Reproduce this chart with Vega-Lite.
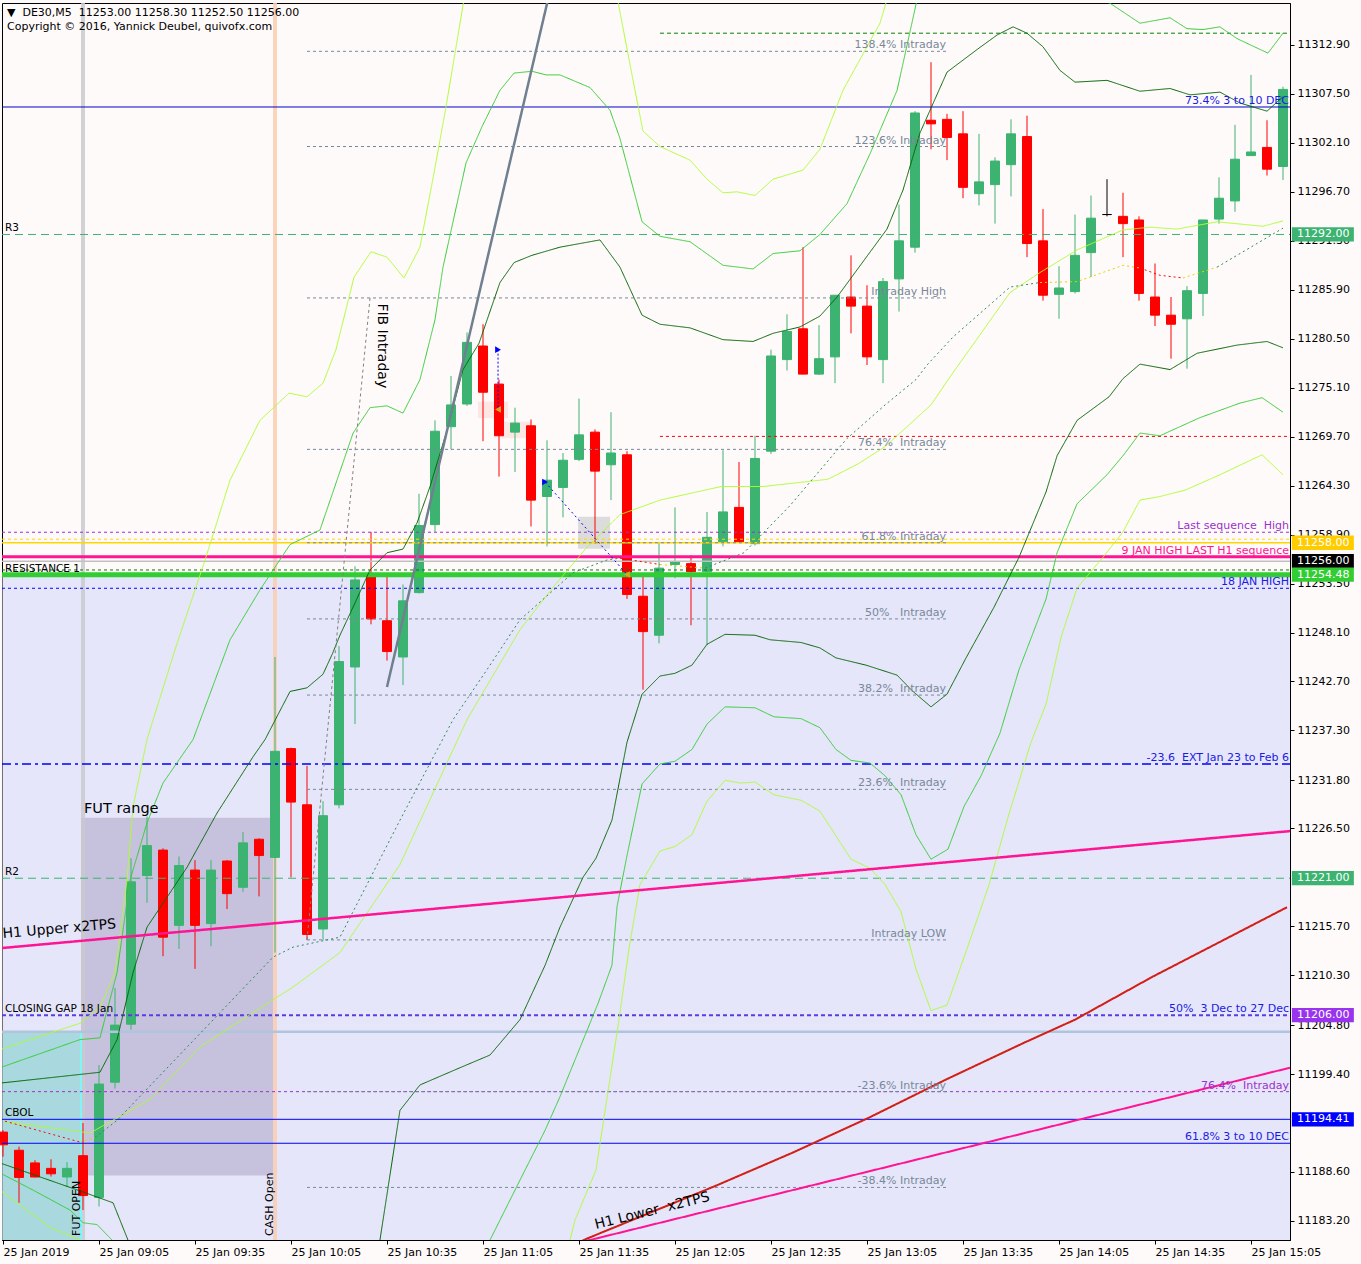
{
"$schema":"https://vega.github.io/schema/vega-lite/v6.json",
"width":1288,"height":1237,
"autosize":{"type":"none"},
"padding":{"left":2,"top":3,"right":71,"bottom":24},
"background":"#FFFAFA",
"config":{"view":{"stroke":"#000000","strokeWidth":1,"fill":"#FFFAFA"},"axis":{"labelFont":"DejaVu Sans","labelFontSize":11,"labelColor":"#000000","tickColor":"#000000","domainColor":"#000000","grid":false,"tickSize":4}},
"datasets":{
"candles":[
{"bar":0,"open":11193.0,"high":11193.2,"low":11190.3,"close":11191.6},
{"bar":1,"open":11191.0,"high":11191.4,"low":11185.2,"close":11188.0},
{"bar":2,"open":11189.6,"high":11189.9,"low":11188.0,"close":11188.05},
{"bar":3,"open":11189.0,"high":11190.0,"low":11188.1,"close":11188.4},
{"bar":4,"open":11188.05,"high":11189.7,"low":11187.0,"close":11189.0},
{"bar":5,"open":11190.4,"high":11194.0,"low":11184.4,"close":11186.0},
{"bar":6,"open":11185.8,"high":11200.4,"low":11184.8,"close":11198.3},
{"bar":7,"open":11198.5,"high":11208.9,"low":11197.8,"close":11204.8},
{"bar":8,"open":11204.9,"high":11223.2,"low":11204.3,"close":11220.6},
{"bar":9,"open":11221.3,"high":11227.8,"low":11218.3,"close":11224.6},
{"bar":10,"open":11224.1,"high":11224.3,"low":11212.4,"close":11214.5},
{"bar":11,"open":11215.8,"high":11223.4,"low":11213.2,"close":11222.4},
{"bar":12,"open":11221.9,"high":11223.0,"low":11211.0,"close":11215.8},
{"bar":13,"open":11216.0,"high":11223.0,"low":11213.5,"close":11221.9},
{"bar":14,"open":11222.9,"high":11223.0,"low":11217.6,"close":11219.3},
{"bar":15,"open":11220.0,"high":11226.1,"low":11219.5,"close":11224.9},
{"bar":16,"open":11225.3,"high":11225.4,"low":11219.0,"close":11223.5},
{"bar":17,"open":11223.3,"high":11245.4,"low":11212.8,"close":11235.0},
{"bar":18,"open":11235.3,"high":11235.4,"low":11221.1,"close":11229.4},
{"bar":19,"open":11229.1,"high":11233.4,"low":11214.2,"close":11214.8},
{"bar":20,"open":11215.4,"high":11229.5,"low":11214.2,"close":11227.9},
{"bar":21,"open":11229.1,"high":11246.6,"low":11228.7,"close":11244.9},
{"bar":22,"open":11244.3,"high":11255.4,"low":11238.0,"close":11253.9},
{"bar":23,"open":11254.3,"high":11259.2,"low":11249.0,"close":11249.6},
{"bar":24,"open":11249.4,"high":11254.3,"low":11245.0,"close":11246.0},
{"bar":25,"open":11245.4,"high":11253.4,"low":11242.3,"close":11251.6},
{"bar":26,"open":11252.5,"high":11263.4,"low":11252.4,"close":11259.9},
{"bar":27,"open":11260.0,"high":11271.5,"low":11259.2,"close":11270.3},
{"bar":28,"open":11270.8,"high":11276.4,"low":11268.3,"close":11273.2},
{"bar":29,"open":11273.3,"high":11281.2,"low":11273.1,"close":11280.1},
{"bar":30,"open":11279.7,"high":11282.1,"low":11269.2,"close":11274.6},
{"bar":31,"open":11275.5,"high":11276.0,"low":11265.3,"close":11269.8},
{"bar":32,"open":11270.2,"high":11272.9,"low":11265.8,"close":11271.2},
{"bar":33,"open":11270.9,"high":11271.6,"low":11259.8,"close":11262.7},
{"bar":34,"open":11263.1,"high":11269.3,"low":11257.6,"close":11264.9},
{"bar":35,"open":11264.1,"high":11267.9,"low":11260.8,"close":11267.1},
{"bar":36,"open":11267.2,"high":11273.9,"low":11267.0,"close":11269.9},
{"bar":37,"open":11270.2,"high":11270.5,"low":11257.9,"close":11265.9},
{"bar":38,"open":11266.6,"high":11272.4,"low":11262.7,"close":11267.9},
{"bar":39,"open":11267.7,"high":11268.1,"low":11251.8,"close":11252.3},
{"bar":40,"open":11252.1,"high":11254.3,"low":11241.8,"close":11248.2},
{"bar":41,"open":11247.8,"high":11258.1,"low":11246.9,"close":11255.2},
{"bar":42,"open":11255.6,"high":11261.9,"low":11254.1,"close":11255.9},
{"bar":43,"open":11255.7,"high":11256.6,"low":11248.9,"close":11254.8},
{"bar":44,"open":11254.8,"high":11261.4,"low":11246.7,"close":11258.6},
{"bar":45,"open":11258.1,"high":11268.2,"low":11257.6,"close":11261.4},
{"bar":46,"open":11261.9,"high":11266.9,"low":11258.1,"close":11258.1},
{"bar":47,"open":11257.9,"high":11269.8,"low":11257.7,"close":11267.3},
{"bar":48,"open":11268.1,"high":11279.3,"low":11267.8,"close":11278.6},
{"bar":49,"open":11278.2,"high":11283.2,"low":11277.0,"close":11281.3},
{"bar":50,"open":11281.6,"high":11290.6,"low":11276.6,"close":11276.6},
{"bar":51,"open":11276.6,"high":11282.0,"low":11276.5,"close":11278.3},
{"bar":52,"open":11278.5,"high":11285.3,"low":11275.6,"close":11285.3},
{"bar":53,"open":11285.1,"high":11289.7,"low":11281.1,"close":11284.1},
{"bar":54,"open":11284.1,"high":11286.4,"low":11277.6,"close":11278.5},
{"bar":55,"open":11278.2,"high":11287.2,"low":11275.6,"close":11286.8},
{"bar":56,"open":11287.1,"high":11295.3,"low":11283.5,"close":11291.3},
{"bar":57,"open":11290.6,"high":11305.6,"low":11290.0,"close":11305.4},
{"bar":58,"open":11304.6,"high":11311.0,"low":11301.4,"close":11304.2},
{"bar":59,"open":11304.7,"high":11305.3,"low":11300.2,"close":11302.7},
{"bar":60,"open":11303.1,"high":11305.6,"low":11296.0,"close":11297.2},
{"bar":61,"open":11296.5,"high":11303.1,"low":11295.2,"close":11297.8},
{"bar":62,"open":11297.5,"high":11300.5,"low":11293.2,"close":11300.1},
{"bar":63,"open":11299.7,"high":11304.7,"low":11296.2,"close":11303.1},
{"bar":64,"open":11302.8,"high":11305.1,"low":11289.5,"close":11291.0},
{"bar":65,"open":11291.3,"high":11294.8,"low":11284.7,"close":11285.3},
{"bar":66,"open":11285.4,"high":11288.5,"low":11282.7,"close":11286.1},
{"bar":67,"open":11285.7,"high":11294.2,"low":11285.5,"close":11289.7},
{"bar":68,"open":11290.0,"high":11296.3,"low":11287.3,"close":11293.8},
{"bar":69,"open":11294.2,"high":11298.1,"low":11294.0,"close":11294.2},
{"bar":70,"open":11294.0,"high":11296.6,"low":11289.5,"close":11293.2},
{"bar":71,"open":11293.6,"high":11294.0,"low":11284.7,"close":11285.5},
{"bar":72,"open":11285.1,"high":11288.8,"low":11281.9,"close":11283.1},
{"bar":73,"open":11283.1,"high":11285.1,"low":11278.3,"close":11282.1},
{"bar":74,"open":11282.7,"high":11286.3,"low":11277.2,"close":11285.8},
{"bar":75,"open":11285.5,"high":11293.6,"low":11283.0,"close":11293.6},
{"bar":76,"open":11293.7,"high":11298.3,"low":11293.2,"close":11296.0},
{"bar":77,"open":11295.7,"high":11304.1,"low":11294.5,"close":11300.3},
{"bar":78,"open":11300.7,"high":11309.6,"low":11300.7,"close":11301.1},
{"bar":79,"open":11301.6,"high":11304.6,"low":11298.5,"close":11299.2},
{"bar":80,"open":11299.5,"high":11308.3,"low":11298.0,"close":11308.0}
],
"lines":[
{"series":"DG_U","bar":-0.19,"price":11198.4},{"series":"DG_U","bar":6.06,"price":11199.6},{"series":"DG_U","bar":7.13,"price":11203.2},{"series":"DG_U","bar":8.13,"price":11210.6},{"series":"DG_U","bar":9.0,"price":11215.6},{"series":"DG_U","bar":10.25,"price":11218.9},{"series":"DG_U","bar":11.5,"price":11222.2},{"series":"DG_U","bar":13.38,"price":11228.2},{"series":"DG_U","bar":15.63,"price":11234.4},{"series":"DG_U","bar":16.38,"price":11236.3},{"series":"DG_U","bar":17.94,"price":11241.6},{"series":"DG_U","bar":19.0,"price":11242.0},{"series":"DG_U","bar":20.0,"price":11243.5},{"series":"DG_U","bar":20.6,"price":11245.8},{"series":"DG_U","bar":21.06,"price":11247.8},{"series":"DG_U","bar":21.88,"price":11250.9},{"series":"DG_U","bar":22.94,"price":11255.0},{"series":"DG_U","bar":24.0,"price":11256.9},{"series":"DG_U","bar":25.0,"price":11257.3},{"series":"DG_U","bar":25.88,"price":11260.2},{"series":"DG_U","bar":26.69,"price":11264.2},{"series":"DG_U","bar":27.75,"price":11270.4},{"series":"DG_U","bar":28.75,"price":11277.1},{"series":"DG_U","bar":29.75,"price":11280.0},{"series":"DG_U","bar":31.06,"price":11286.7},{"series":"DG_U","bar":31.94,"price":11288.9},{"series":"DG_U","bar":33.06,"price":11289.7},{"series":"DG_U","bar":34.81,"price":11290.6},{"series":"DG_U","bar":37.31,"price":11291.4},{"series":"DG_U","bar":38.56,"price":11288.4},{"series":"DG_U","bar":39.94,"price":11283.1},{"series":"DG_U","bar":41.06,"price":11282.1},{"series":"DG_U","bar":42.94,"price":11281.7},{"series":"DG_U","bar":45.0,"price":11280.4},{"series":"DG_U","bar":46.88,"price":11280.2},{"series":"DG_U","bar":48.13,"price":11281.1},{"series":"DG_U","bar":49.81,"price":11281.8},{"series":"DG_U","bar":51.06,"price":11283.0},{"series":"DG_U","bar":52.13,"price":11285.1},{"series":"DG_U","bar":54.0,"price":11289.6},{"series":"DG_U","bar":55.25,"price":11292.6},{"series":"DG_U","bar":56.25,"price":11296.9},{"series":"DG_U","bar":57.31,"price":11303.2},{"series":"DG_U","bar":59.0,"price":11309.9},{"series":"DG_U","bar":60.88,"price":11312.4},{"series":"DG_U","bar":62.13,"price":11314.0},{"series":"DG_U","bar":63.13,"price":11314.9},{"series":"DG_U","bar":64.0,"price":11314.2},{"series":"DG_U","bar":65.0,"price":11312.7},{"series":"DG_U","bar":66.06,"price":11310.1},{"series":"DG_U","bar":67.0,"price":11308.8},{"series":"DG_U","bar":69.0,"price":11309.0},{"series":"DG_U","bar":71.06,"price":11307.8},{"series":"DG_U","bar":72.94,"price":11308.1},{"series":"DG_U","bar":74.19,"price":11307.4},{"series":"DG_U","bar":76.06,"price":11307.7},{"series":"DG_U","bar":77.31,"price":11306.5},{"series":"DG_U","bar":79.0,"price":11305.6},{"series":"DG_U","bar":80.0,"price":11307.2},
{"series":"DG_L","bar":-0.19,"price":11189.6},{"series":"DG_L","bar":5.0,"price":11186.4},{"series":"DG_L","bar":6.88,"price":11185.2},{"series":"DG_L","bar":7.81,"price":11181.1},{"series":"DG_L","bar":8.88,"price":11175.6},{"series":"DG_L","bar":12.31,"price":11171.2},{"series":"DG_L","bar":18.63,"price":11167.9},{"series":"DG_L","bar":22.31,"price":11174.5},{"series":"DG_L","bar":23.56,"price":11181.1},{"series":"DG_L","bar":24.81,"price":11195.4},{"series":"DG_L","bar":26.06,"price":11198.2},{"series":"DG_L","bar":28.56,"price":11200.1},{"series":"DG_L","bar":30.44,"price":11201.5},{"series":"DG_L","bar":32.31,"price":11205.4},{"series":"DG_L","bar":33.88,"price":11211.4},{"series":"DG_L","bar":34.81,"price":11215.6},{"series":"DG_L","bar":36.25,"price":11221.1},{"series":"DG_L","bar":37.06,"price":11223.2},{"series":"DG_L","bar":38.06,"price":11227.4},{"series":"DG_L","bar":39.0,"price":11236.0},{"series":"DG_L","bar":39.94,"price":11241.3},{"series":"DG_L","bar":41.06,"price":11243.3},{"series":"DG_L","bar":42.0,"price":11243.6},{"series":"DG_L","bar":43.06,"price":11244.5},{"series":"DG_L","bar":44.0,"price":11246.8},{"series":"DG_L","bar":45.13,"price":11247.9},{"series":"DG_L","bar":47.0,"price":11247.8},{"series":"DG_L","bar":47.94,"price":11247.3},{"series":"DG_L","bar":49.88,"price":11247.0},{"series":"DG_L","bar":51.06,"price":11246.4},{"series":"DG_L","bar":52.06,"price":11245.3},{"series":"DG_L","bar":53.94,"price":11244.5},{"series":"DG_L","bar":55.88,"price":11243.4},{"series":"DG_L","bar":56.81,"price":11241.7},{"series":"DG_L","bar":58.0,"price":11239.9},{"series":"DG_L","bar":59.0,"price":11241.3},{"series":"DG_L","bar":60.19,"price":11245.3},{"series":"DG_L","bar":61.94,"price":11250.9},{"series":"DG_L","bar":63.5,"price":11256.4},{"series":"DG_L","bar":65.19,"price":11263.6},{"series":"DG_L","bar":65.88,"price":11267.6},{"series":"DG_L","bar":67.13,"price":11271.5},{"series":"DG_L","bar":69.13,"price":11274.1},{"series":"DG_L","bar":70.0,"price":11276.1},{"series":"DG_L","bar":71.06,"price":11277.7},{"series":"DG_L","bar":72.94,"price":11277.1},{"series":"DG_L","bar":74.63,"price":11278.9},{"series":"DG_L","bar":77.13,"price":11279.8},{"series":"DG_L","bar":79.0,"price":11280.2},{"series":"DG_L","bar":80.0,"price":11279.5},
{"series":"G_U","bar":-0.19,"price":11200.1},{"series":"G_U","bar":4.81,"price":11203.2},{"series":"G_U","bar":6.06,"price":11203.4},{"series":"G_U","bar":7.13,"price":11210.6},{"series":"G_U","bar":7.94,"price":11220.8},{"series":"G_U","bar":9.0,"price":11227.1},{"series":"G_U","bar":10.0,"price":11231.5},{"series":"G_U","bar":11.88,"price":11236.3},{"series":"G_U","bar":14.19,"price":11247.3},{"series":"G_U","bar":16.06,"price":11252.8},{"series":"G_U","bar":17.94,"price":11257.8},{"series":"G_U","bar":19.81,"price":11259.4},{"series":"G_U","bar":21.88,"price":11270.1},{"series":"G_U","bar":22.94,"price":11272.9},{"series":"G_U","bar":24.0,"price":11273.1},{"series":"G_U","bar":25.0,"price":11272.3},{"series":"G_U","bar":26.06,"price":11276.0},{"series":"G_U","bar":27.0,"price":11282.6},{"series":"G_U","bar":27.5,"price":11288.4},{"series":"G_U","bar":28.94,"price":11299.9},{"series":"G_U","bar":29.94,"price":11303.9},{"series":"G_U","bar":31.06,"price":11307.9},{"series":"G_U","bar":31.94,"price":11309.8},{"series":"G_U","bar":33.06,"price":11310.0},{"series":"G_U","bar":33.94,"price":11309.6},{"series":"G_U","bar":34.81,"price":11309.6},{"series":"G_U","bar":36.69,"price":11308.2},{"series":"G_U","bar":37.94,"price":11305.7},{"series":"G_U","bar":38.56,"price":11302.6},{"series":"G_U","bar":39.94,"price":11293.4},{"series":"G_U","bar":41.06,"price":11291.8},{"series":"G_U","bar":42.94,"price":11291.2},{"series":"G_U","bar":45.0,"price":11288.6},{"series":"G_U","bar":46.88,"price":11288.2},{"series":"G_U","bar":48.13,"price":11289.9},{"series":"G_U","bar":49.81,"price":11290.2},{"series":"G_U","bar":51.06,"price":11292.0},{"series":"G_U","bar":52.75,"price":11295.4},{"series":"G_U","bar":54.19,"price":11300.9},{"series":"G_U","bar":55.88,"price":11307.9},{"series":"G_U","bar":57.13,"price":11317.9},{"series":"G_U","bar":59.8,"price":11328.9},{"series":"G_U","bar":65.4,"price":11331.1},{"series":"G_U","bar":68.56,"price":11317.9},{"series":"G_U","bar":69.19,"price":11317.5},{"series":"G_U","bar":71.06,"price":11315.3},{"series":"G_U","bar":72.94,"price":11315.9},{"series":"G_U","bar":74.0,"price":11314.7},{"series":"G_U","bar":75.0,"price":11314.6},{"series":"G_U","bar":76.06,"price":11314.9},{"series":"G_U","bar":77.13,"price":11313.6},{"series":"G_U","bar":79.06,"price":11312.0},{"series":"G_U","bar":80.0,"price":11314.2},
{"series":"G_L","bar":-0.19,"price":11188.5},{"series":"G_L","bar":1.88,"price":11186.6},{"series":"G_L","bar":4.19,"price":11184.4},{"series":"G_L","bar":5.0,"price":11183.0},{"series":"G_L","bar":5.88,"price":11182.8},{"series":"G_L","bar":6.81,"price":11181.1},{"series":"G_L","bar":15.44,"price":11161.3},{"series":"G_L","bar":26.06,"price":11161.3},{"series":"G_L","bar":30.44,"price":11181.1},{"series":"G_L","bar":32.31,"price":11187.7},{"series":"G_L","bar":33.88,"price":11193.2},{"series":"G_L","bar":34.81,"price":11196.9},{"series":"G_L","bar":36.13,"price":11202.6},{"series":"G_L","bar":37.19,"price":11207.2},{"series":"G_L","bar":38.06,"price":11211.4},{"series":"G_L","bar":38.38,"price":11217.9},{"series":"G_L","bar":39.0,"price":11223.5},{"series":"G_L","bar":39.94,"price":11231.4},{"series":"G_L","bar":41.06,"price":11233.6},{"series":"G_L","bar":42.0,"price":11233.9},{"series":"G_L","bar":43.06,"price":11235.2},{"series":"G_L","bar":44.0,"price":11238.0},{"series":"G_L","bar":45.13,"price":11239.9},{"series":"G_L","bar":47.0,"price":11239.8},{"series":"G_L","bar":48.19,"price":11238.8},{"series":"G_L","bar":49.88,"price":11238.6},{"series":"G_L","bar":51.06,"price":11237.6},{"series":"G_L","bar":52.06,"price":11235.2},{"series":"G_L","bar":53.0,"price":11234.0},{"series":"G_L","bar":54.19,"price":11233.7},{"series":"G_L","bar":55.13,"price":11232.3},{"series":"G_L","bar":56.13,"price":11230.2},{"series":"G_L","bar":57.06,"price":11225.8},{"series":"G_L","bar":58.0,"price":11223.1},{"series":"G_L","bar":59.06,"price":11224.2},{"series":"G_L","bar":60.06,"price":11228.9},{"series":"G_L","bar":61.13,"price":11232.3},{"series":"G_L","bar":62.31,"price":11237.0},{"series":"G_L","bar":63.5,"price":11244.0},{"series":"G_L","bar":65.19,"price":11251.8},{"series":"G_L","bar":65.88,"price":11256.9},{"series":"G_L","bar":67.13,"price":11262.3},{"series":"G_L","bar":69.0,"price":11265.5},{"series":"G_L","bar":70.0,"price":11267.6},{"series":"G_L","bar":71.06,"price":11270.1},{"series":"G_L","bar":72.31,"price":11269.8},{"series":"G_L","bar":74.81,"price":11271.8},{"series":"G_L","bar":77.31,"price":11273.4},{"series":"G_L","bar":78.69,"price":11274.0},{"series":"G_L","bar":80.0,"price":11272.4},
{"series":"L_U","bar":-0.19,"price":11202.1},{"series":"L_U","bar":4.81,"price":11205.0},{"series":"L_U","bar":6.06,"price":11206.8},{"series":"L_U","bar":7.0,"price":11210.6},{"series":"L_U","bar":7.75,"price":11220.8},{"series":"L_U","bar":8.13,"price":11228.9},{"series":"L_U","bar":9.0,"price":11236.3},{"series":"L_U","bar":10.75,"price":11246.2},{"series":"L_U","bar":12.63,"price":11256.1},{"series":"L_U","bar":14.19,"price":11264.9},{"series":"L_U","bar":16.06,"price":11271.5},{"series":"L_U","bar":17.88,"price":11274.5},{"series":"L_U","bar":19.0,"price":11274.1},{"series":"L_U","bar":20.0,"price":11275.6},{"series":"L_U","bar":20.81,"price":11279.3},{"series":"L_U","bar":21.94,"price":11287.3},{"series":"L_U","bar":23.0,"price":11290.1},{"series":"L_U","bar":24.0,"price":11289.5},{"series":"L_U","bar":25.06,"price":11287.2},{"series":"L_U","bar":26.06,"price":11290.6},{"series":"L_U","bar":26.94,"price":11298.8},{"series":"L_U","bar":27.69,"price":11306.1},{"series":"L_U","bar":28.81,"price":11317.9},{"series":"L_U","bar":32.31,"price":11334.4},{"series":"L_U","bar":36.06,"price":11331.1},{"series":"L_U","bar":38.4,"price":11318.0},{"series":"L_U","bar":39.5,"price":11307.9},{"series":"L_U","bar":40.0,"price":11303.4},{"series":"L_U","bar":41.06,"price":11301.7},{"series":"L_U","bar":42.94,"price":11300.2},{"series":"L_U","bar":44.0,"price":11298.1},{"series":"L_U","bar":45.0,"price":11296.6},{"series":"L_U","bar":45.88,"price":11296.7},{"series":"L_U","bar":47.0,"price":11296.3},{"series":"L_U","bar":48.13,"price":11298.1},{"series":"L_U","bar":50.0,"price":11299.1},{"series":"L_U","bar":51.06,"price":11301.4},{"series":"L_U","bar":52.5,"price":11307.9},{"series":"L_U","bar":54.81,"price":11315.3},{"series":"L_U","bar":55.25,"price":11317.9},{"series":"L_U","bar":62.3,"price":11345.4},{"series":"L_U","bar":80.0,"price":11339.9},
{"series":"L_L","bar":-0.19,"price":11186.6},{"series":"L_L","bar":2.94,"price":11182.5},{"series":"L_L","bar":4.81,"price":11181.1},{"series":"L_L","bar":12.31,"price":11163.5},{"series":"L_L","bar":24.81,"price":11163.5},{"series":"L_L","bar":34.19,"price":11174.5},{"series":"L_L","bar":35.44,"price":11181.1},{"series":"L_L","bar":35.75,"price":11183.3},{"series":"L_L","bar":37.06,"price":11188.8},{"series":"L_L","bar":38.5,"price":11205.4},{"series":"L_L","bar":39.13,"price":11213.3},{"series":"L_L","bar":39.81,"price":11220.3},{"series":"L_L","bar":41.06,"price":11224.0},{"series":"L_L","bar":42.0,"price":11224.5},{"series":"L_L","bar":43.06,"price":11225.8},{"series":"L_L","bar":44.0,"price":11229.5},{"series":"L_L","bar":45.13,"price":11231.8},{"series":"L_L","bar":46.06,"price":11231.5},{"series":"L_L","bar":47.0,"price":11231.6},{"series":"L_L","bar":48.19,"price":11230.2},{"series":"L_L","bar":49.88,"price":11229.6},{"series":"L_L","bar":51.06,"price":11228.4},{"series":"L_L","bar":53.0,"price":11223.1},{"series":"L_L","bar":54.19,"price":11222.1},{"series":"L_L","bar":55.13,"price":11220.3},{"series":"L_L","bar":56.13,"price":11217.3},{"series":"L_L","bar":57.06,"price":11211.0},{"series":"L_L","bar":58.0,"price":11206.4},{"series":"L_L","bar":59.0,"price":11207.0},{"series":"L_L","bar":60.19,"price":11212.9},{"series":"L_L","bar":61.63,"price":11220.3},{"series":"L_L","bar":62.81,"price":11227.7},{"series":"L_L","bar":64.25,"price":11236.0},{"series":"L_L","bar":65.19,"price":11240.2},{"series":"L_L","bar":66.13,"price":11247.6},{"series":"L_L","bar":67.13,"price":11253.0},{"series":"L_L","bar":68.75,"price":11256.4},{"series":"L_L","bar":70.0,"price":11259.2},{"series":"L_L","bar":71.06,"price":11262.7},{"series":"L_L","bar":72.31,"price":11263.1},{"series":"L_L","bar":73.88,"price":11263.8},{"series":"L_L","bar":76.06,"price":11265.5},{"series":"L_L","bar":78.69,"price":11267.7},{"series":"L_L","bar":80.0,"price":11265.5},
{"series":"MA","bar":0.13,"price":11194.1},{"series":"MA","bar":5.44,"price":11192.9},{"series":"MA","bar":9.19,"price":11196.6},{"series":"MA","bar":12.31,"price":11202.4},{"series":"MA","bar":16.88,"price":11207.6},{"series":"MA","bar":18.13,"price":11209.0},{"series":"MA","bar":21.06,"price":11212.8},{"series":"MA","bar":24.81,"price":11222.5},{"series":"MA","bar":29.0,"price":11238.5},{"series":"MA","bar":32.31,"price":11248.4},{"series":"MA","bar":34.38,"price":11253.1},{"series":"MA","bar":36.5,"price":11257.5},{"series":"MA","bar":38.56,"price":11261.1},{"series":"MA","bar":41.06,"price":11262.7},{"series":"MA","bar":44.88,"price":11264.2},{"series":"MA","bar":47.5,"price":11264.2},{"series":"MA","bar":51.56,"price":11265.0},{"series":"MA","bar":53.44,"price":11266.7},{"series":"MA","bar":55.13,"price":11268.6},{"series":"MA","bar":58.0,"price":11273.2},{"series":"MA","bar":59.19,"price":11276.3},{"series":"MA","bar":62.94,"price":11285.6},{"series":"MA","bar":64.81,"price":11287.8},{"series":"MA","bar":67.13,"price":11290.3},{"series":"MA","bar":70.0,"price":11292.5},{"series":"MA","bar":71.69,"price":11292.8},{"series":"MA","bar":73.38,"price":11292.6},{"series":"MA","bar":75.88,"price":11293.4},{"series":"MA","bar":78.75,"price":11292.9},{"series":"MA","bar":80.0,"price":11293.5},
{"series":"mid_r1","bar":0.13,"price":11194.2},{"series":"mid_r1","bar":4.81,"price":11191.9},
{"series":"mid_y1","bar":4.81,"price":11191.9},{"series":"mid_y1","bar":5.75,"price":11192.4},
{"series":"mid_g1","bar":5.75,"price":11192.4},{"series":"mid_g1","bar":7.13,"price":11194.3},{"series":"mid_g1","bar":16.88,"price":11212.3},{"series":"mid_g1","bar":18.13,"price":11213.4},{"series":"mid_g1","bar":21.06,"price":11214.5},{"series":"mid_g1","bar":24.81,"price":11227.4},{"series":"mid_g1","bar":28.13,"price":11238.5},{"series":"mid_g1","bar":30.25,"price":11244.0},{"series":"mid_g1","bar":32.31,"price":11249.5},{"series":"mid_g1","bar":35.63,"price":11254.7},{"series":"mid_g1","bar":37.75,"price":11256.1},{"series":"mid_g1","bar":38.56,"price":11256.3},
{"series":"mid_r2","bar":38.56,"price":11256.3},{"series":"mid_r2","bar":41.06,"price":11255.6},
{"series":"mid_y2","bar":41.06,"price":11255.6},{"series":"mid_y2","bar":43.88,"price":11255.2},
{"series":"mid_g2","bar":43.88,"price":11255.2},{"series":"mid_g2","bar":46.31,"price":11256.9},{"series":"mid_g2","bar":49.19,"price":11262.1},{"series":"mid_g2","bar":52.75,"price":11269.5},{"series":"mid_g2","bar":55.13,"price":11273.2},{"series":"mid_g2","bar":57.06,"price":11276.0},{"series":"mid_g2","bar":57.75,"price":11277.6},{"series":"mid_g2","bar":59.38,"price":11280.7},{"series":"mid_g2","bar":62.94,"price":11286.2},{"series":"mid_g2","bar":64.81,"price":11286.7},
{"series":"mid_y3","bar":64.81,"price":11286.7},{"series":"mid_y3","bar":67.13,"price":11286.8},{"series":"mid_y3","bar":70.0,"price":11288.6},{"series":"mid_y3","bar":71.06,"price":11288.3},
{"series":"mid_r3","bar":71.06,"price":11288.3},{"series":"mid_r3","bar":72.31,"price":11287.5},{"series":"mid_r3","bar":73.75,"price":11287.2},
{"series":"mid_y4","bar":73.75,"price":11287.2},{"series":"mid_y4","bar":75.88,"price":11288.4},
{"series":"mid_g3","bar":75.88,"price":11288.4},{"series":"mid_g3","bar":80.0,"price":11292.7},
{"series":"LC","bar":36.06,"price":11180.9},{"series":"LC","bar":36.56,"price":11181.3},{"series":"LC","bar":44.44,"price":11187.0},{"series":"LC","bar":49.31,"price":11190.7},{"series":"LC","bar":54.13,"price":11194.6},{"series":"LC","bar":58.94,"price":11198.8},{"series":"LC","bar":63.75,"price":11202.8},{"series":"LC","bar":67.0,"price":11205.4},{"series":"LC","bar":71.81,"price":11210.1},{"series":"LC","bar":76.63,"price":11214.5},{"series":"LC","bar":80.25,"price":11217.8},
{"series":"pinkU","bar":-0.0625,"price":11213.3},{"series":"pinkU","bar":80.4375,"price":11226.2},
{"series":"pinkL","bar":36.0,"price":11180.8},{"series":"pinkL","bar":80.4375,"price":11200.1},
{"series":"fibtrend","bar":19.0,"price":11214.2},{"series":"fibtrend","bar":22.94,"price":11285.0},
{"series":"greytrend","bar":24.0,"price":11242.1},{"series":"greytrend","bar":34.06,"price":11317.9},
{"series":"bluediag","bar":33.88,"price":11264.7},{"series":"bluediag","bar":39.0,"price":11254.5},
{"series":"bluevert","bar":30.94,"price":11279.3},{"series":"bluevert","bar":30.94,"price":11272.7}
],
"levels":[
{"style":"navy","price":11306.06,"bar":-0.0625,"bar2":80.4375,"right":"73.4% 3 to 10 DEC"},
{"style":"pivot","price":11292.0,"bar":-0.0625,"bar2":80.4375,"left":"R3","tag":"11292.00"},
{"style":"purpledash","price":11259.16,"bar":-0.0625,"bar2":80.4375,"right":"Last sequence\u00a0\u00a0High"},
{"style":"golddash","price":11258.39,"bar":-0.0625,"bar2":80.4375},
{"style":"gold","price":11258.0,"bar":-0.0625,"bar2":80.4375,"tag":"11258.00"},
{"style":"silver","price":11255.96,"bar":-0.0625,"bar2":80.4375,"tag":"11256.00"},
{"style":"pink","price":11256.47,"bar":-0.0625,"bar2":80.4375,"right":"9 JAN HIGH LAST H1 sequence"},
{"style":"greendash","price":11255.0,"bar":-0.0625,"bar2":80.4375},
{"style":"lime","price":11254.48,"bar":-0.0625,"bar2":80.4375,"left":"RESISTANCE 1","tag":"11254.48"},
{"style":"bluedash","price":11252.98,"bar":-0.0625,"bar2":80.4375,"right":"18 JAN HIGH"},
{"style":"bluedashdot","price":11233.6,"bar":-0.0625,"bar2":80.4375,"right":"-23.6\u00a0\u00a0EXT Jan 23 to Feb 6"},
{"style":"pivot","price":11221.0,"bar":-0.0625,"bar2":80.4375,"left":"R2","tag":"11221.00"},
{"style":"gapdash","price":11205.9,"bar":-0.0625,"bar2":80.4375,"left":"CLOSING GAP 18 Jan","right":"50%\u00a0\u00a03 Dec to 27 Dec","tag":"11206.00"},
{"style":"steel","price":11204.08,"bar":-0.0625,"bar2":80.4375},
{"style":"purpledash","price":11197.46,"bar":-0.0625,"bar2":80.4375,"right":"76.4%\u00a0\u00a0Intraday"},
{"style":"blue","price":11194.41,"bar":-0.0625,"bar2":80.4375,"left":"CBOL","tag":"11194.41"},
{"style":"blue","price":11191.77,"bar":-0.0625,"bar2":80.4375,"right":"61.8% 3 to 10 DEC"},
{"style":"dgdash","price":11314.2,"bar":41.06,"bar2":80.4375},
{"style":"reddash","price":11269.73,"bar":41.06,"bar2":80.4375},
{"style":"fib","price":11312.2,"bar":19.0,"bar2":58.94,"right":"138.4% Intraday"},
{"style":"fib","price":11301.7,"bar":19.0,"bar2":58.94,"right":"123.6% Intraday"},
{"style":"fib","price":11285.0,"bar":19.0,"bar2":58.94,"right":"Intraday High"},
{"style":"fib","price":11268.3,"bar":19.0,"bar2":58.94,"right":"76.4%\u00a0\u00a0Intraday"},
{"style":"fib","price":11258.0,"bar":19.0,"bar2":58.94,"right":"61.8% Intraday"},
{"style":"fib","price":11249.6,"bar":19.0,"bar2":58.94,"right":"50%\u00a0\u00a0\u00a0Intraday"},
{"style":"fib","price":11241.2,"bar":19.0,"bar2":58.94,"right":"38.2%\u00a0\u00a0Intraday"},
{"style":"fib","price":11230.8,"bar":19.0,"bar2":58.94,"right":"23.6%\u00a0\u00a0Intraday"},
{"style":"fib","price":11214.2,"bar":19.0,"bar2":58.94,"right":"Intraday LOW"},
{"style":"fib","price":11197.46,"bar":19.0,"bar2":58.94,"right":"-23.6% Intraday"},
{"style":"fib","price":11186.9,"bar":19.0,"bar2":58.94,"right":"-38.4% Intraday"}
],
"boxes":[
{"box":"below resistance","bar":-0.03,"bar2":80.4375,"price":11181.1,"price2":11254.48},
{"box":"pre-open","bar":-0.03,"bar2":4.875,"price":11181.1,"price2":11204.08},
{"box":"FUT range","bar":4.875,"bar2":16.875,"price":11188.2,"price2":11227.68},
{"box":"zone","bar":35.94,"bar2":37.94,"price":11257.35,"price2":11260.88}
],
"vlines":[{"event":"FUT open","bar":5.0},{"event":"CASH open","bar":17.0}],
"marks":[
{"marker":"glow","bar":30.63,"price":11272.65},{"marker":"glow","bar":32.13,"price":11270.44},
{"marker":"arrow","bar":30.94,"price":11279.3},{"marker":"arrow","bar":33.88,"price":11264.7},
{"marker":"triangle","bar":30.94,"price":11272.7},{"marker":"triangle","bar":39.0,"price":11254.5}
],
"notes":[
{"note":"header","bar":0.25,"price":11316.1,"text":"▼\u00a0\u00a0DE30,M5\u00a0\u00a011253.00 11258.30 11252.50 11256.00"},
{"note":"header","bar":0.25,"price":11314.6,"text":"Copyright © 2016, Yannick Deubel, quivofx.com"},
{"note":"big","bar":5.06,"price":11228.2,"text":"FUT range"},
{"note":"upper","bar":0.0,"price":11214.4,"text":"H1 Upper x2TPS"},
{"note":"lower","bar":37.06,"price":11182.3,"text":"H1 Lower\u00a0\u00a0x2TPS"},
{"note":"fib","bar":23.44,"price":11284.4,"text":"FIB Intraday"},
{"note":"open","bar":4.81,"price":11181.55,"text":"FUT OPEN"},
{"note":"open","bar":16.875,"price":11181.55,"text":"CASH Open"}
]
},
"layer":[
{"data":{"name":"boxes"},"mark":{"type":"rect"},
 "encoding":{
 "x":{"field":"bar","type":"quantitative","title":null,"scale":{"domain":[-0.0625,80.4375],"nice":false,"zero":false,"padding":0},
  "axis":{"values":[0,6,12,18,24,30,36,42,48,54,60,66,72,78],"labelAlign":"left","labelFlush":false,"labelOverlap":false,"labelPadding":2,"labelBound":false,
  "labelExpr":"datum.value == 0 ? '25 Jan 2019' : '25 Jan ' + pad(toString(floor((515 + 5 * datum.value) / 60)), 2, '0', 'left') + ':' + pad(toString((515 + 5 * datum.value) % 60), 2, '0', 'left')"}},
 "x2":{"field":"bar2"},
 "y":{"field":"price","type":"quantitative","title":null,"scale":{"domain":[11181.1,11317.53],"nice":false,"zero":false,"padding":0},
  "axis":{"orient":"right","values":[11183.2,11188.6,11199.4,11204.8,11210.3,11215.7,11226.5,11231.8,11237.3,11242.7,11248.1,11253.5,11258.9,11264.3,11269.7,11275.1,11280.5,11285.9,11291.3,11296.7,11302.1,11307.5,11312.9],"format":".2f","labelOverlap":false,"labelPadding":3,"labelFlush":false}},
 "y2":{"field":"price2"},
 "color":{"field":"box","type":"nominal","legend":null,"scale":{"domain":["below resistance","pre-open","FUT range","zone"],"range":["#E6E6FA","#A9D9DE","#C6C1DD","#DCDCDC"]}}}},
{"data":{"name":"vlines"},"mark":{"type":"rule","strokeWidth":4},
 "encoding":{"x":{"field":"bar","type":"quantitative","title":null,"scale":{"domain":[-0.0625,80.4375],"nice":false,"zero":false,"padding":0}},
 "color":{"field":"event","type":"nominal","legend":null,"scale":{"domain":["FUT open","CASH open"],"range":["#C9C9CF","#F9CDB0"]}},"opacity":{"value":0.85}}},
{"data":{"values":[{"bar":4.875,"price":11181.1,"price2":11204.08}]},"mark":{"type":"rule","strokeWidth":2,"color":"#7FF5F5"},
 "encoding":{"x":{"field":"bar","type":"quantitative","title":null,"scale":{"domain":[-0.0625,80.4375],"nice":false,"zero":false,"padding":0}},
 "y":{"field":"price","type":"quantitative","title":null,"scale":{"domain":[11181.1,11317.53],"nice":false,"zero":false,"padding":0}},"y2":{"field":"price2"}}},
{"data":{"name":"marks"},"transform":[{"filter":"datum.marker == 'glow'"}],"mark":{"type":"point","filled":true,"shape":"M-1,-0.55L1,-0.55L1,0.55L-1,0.55Z","size":900,"color":"#FDE3E1","opacity":0.9},
 "encoding":{"x":{"field":"bar","type":"quantitative","title":null,"scale":{"domain":[-0.0625,80.4375],"nice":false,"zero":false,"padding":0}},
 "y":{"field":"price","type":"quantitative","title":null,"scale":{"domain":[11181.1,11317.53],"nice":false,"zero":false,"padding":0}}}},
{"data":{"name":"candles"},"mark":{"type":"rule","strokeWidth":1},
 "encoding":{"x":{"field":"bar","type":"quantitative","title":null,"scale":{"domain":[-0.0625,80.4375],"nice":false,"zero":false,"padding":0}},
 "y":{"field":"low","type":"quantitative","title":null,"scale":{"domain":[11181.1,11317.53],"nice":false,"zero":false,"padding":0}},"y2":{"field":"high"},
 "color":{"condition":[{"test":"datum.open < datum.close","value":"#3CB371"},{"test":"datum.open > datum.close","value":"#FF0000"}],"value":"#000000"}}},
{"data":{"name":"candles"},"mark":{"type":"bar","width":9,"strokeWidth":1},
 "encoding":{"x":{"field":"bar","type":"quantitative","title":null,"scale":{"domain":[-0.0625,80.4375],"nice":false,"zero":false,"padding":0}},
 "y":{"field":"open","type":"quantitative","title":null,"scale":{"domain":[11181.1,11317.53],"nice":false,"zero":false,"padding":0}},"y2":{"field":"close"},
 "color":{"condition":[{"test":"datum.open < datum.close","value":"#3CB371"},{"test":"datum.open > datum.close","value":"#FF0000"}],"value":"#000000"},
 "stroke":{"condition":[{"test":"datum.open < datum.close","value":"#3CB371"},{"test":"datum.open > datum.close","value":"#FF0000"}],"value":"#000000"}}},
{"data":{"name":"levels"},"mark":{"type":"rule","clip":true},
 "encoding":{"x":{"field":"bar","type":"quantitative","title":null,"scale":{"domain":[-0.0625,80.4375],"nice":false,"zero":false,"padding":0}},"x2":{"field":"bar2"},
 "y":{"field":"price","type":"quantitative","title":null,"scale":{"domain":[11181.1,11317.53],"nice":false,"zero":false,"padding":0}},
 "color":{"field":"style","type":"nominal","legend":null,"scale":{"domain":["navy","pivot","purpledash","golddash","gold","pink","silver","greendash","lime","bluedash","bluedashdot","gapdash","steel","blue","fib","dgdash","reddash"],"range":["#0000CD","#3CB371","#9932CC","#FFD700","#FFD700","#FF1493","#C0C0C0","#008000","#32CD32","#0000FF","#0000FF","#5B3CE0","#B0C4DE","#0000FF","#778899","#008000","#FF0000"]}},
 "strokeDash":{"field":"style","type":"nominal","legend":null,"scale":{"domain":["navy","pivot","purpledash","golddash","gold","pink","silver","greendash","lime","bluedash","bluedashdot","gapdash","steel","blue","fib","dgdash","reddash"],"range":[[1,0],[8,5],[3,3],[3,3],[1,0],[1,0],[1,0],[3,3],[1,0],[3,3],[9,4,3,4],[4,3],[1,0],[1,0],[3,3],[4,3],[3,3]]}},
 "strokeWidth":{"condition":[{"test":"datum.style == 'lime'","value":5},{"test":"datum.style == 'pink'","value":3},{"test":"datum.style == 'steel'","value":2.5},{"test":"datum.style == 'gapdash'","value":2},{"test":"datum.style == 'gold' || datum.style == 'silver' || datum.style == 'bluedashdot'","value":1.5}],"value":1}}},
{"data":{"name":"lines"},"mark":{"type":"line","clip":true},
 "encoding":{"x":{"field":"bar","type":"quantitative","title":null,"scale":{"domain":[-0.0625,80.4375],"nice":false,"zero":false,"padding":0}},
 "y":{"field":"price","type":"quantitative","title":null,"scale":{"domain":[11181.1,11317.53],"nice":false,"zero":false,"padding":0}},
 "color":{"field":"series","type":"nominal","legend":null,"scale":{"domain":["DG_U","DG_L","G_U","G_L","L_U","L_L","MA","mid_g1","mid_g2","mid_g3","mid_r1","mid_r2","mid_r3","mid_y1","mid_y2","mid_y3","mid_y4","LC","pinkU","pinkL","fibtrend","greytrend","bluediag","bluevert"],"range":["#006400","#006400","#32CD32","#32CD32","#ADFF2F","#ADFF2F","#ADFF2F","#2E8B57","#2E8B57","#2E8B57","#FF0000","#FF0000","#FF0000","#E6D000","#E6D000","#E6D000","#E6D000","#E81010","#FF1493","#FF1493","#808080","#708090","#0000FF","#0000FF"]}},
 "strokeDash":{"field":"series","type":"nominal","legend":null,"scale":{"domain":["DG_U","DG_L","G_U","G_L","L_U","L_L","MA","mid_g1","mid_g2","mid_g3","mid_r1","mid_r2","mid_r3","mid_y1","mid_y2","mid_y3","mid_y4","LC","pinkU","pinkL","fibtrend","greytrend","bluediag","bluevert"],"range":[[1,0],[1,0],[1,0],[1,0],[1,0],[1,0],[1,0],[2,3],[2,3],[2,3],[2,3],[2,3],[2,3],[2,3],[2,3],[2,3],[2,3],[1,0],[1,0],[1,0],[3,3],[1,0],[2,3],[2,2]]}},
 "strokeWidth":{"condition":[{"test":"datum.series == 'LC' || datum.series == 'pinkL'","value":2},{"test":"datum.series == 'pinkU' || datum.series == 'greytrend'","value":2.5}],"value":1}}},
{"data":{"name":"lines"},"transform":[{"filter":"datum.series == 'LC'"}],"mark":{"type":"line","clip":true,"color":"#2E8B2E","strokeWidth":1,"strokeDash":[1,3]},
 "encoding":{"x":{"field":"bar","type":"quantitative","title":null,"scale":{"domain":[-0.0625,80.4375],"nice":false,"zero":false,"padding":0}},
 "y":{"field":"price","type":"quantitative","title":null,"scale":{"domain":[11181.1,11317.53],"nice":false,"zero":false,"padding":0}}}},
{"data":{"name":"marks"},"transform":[{"filter":"datum.marker != 'glow'"}],"mark":{"type":"point","filled":true,"opacity":1,"size":45},
 "encoding":{"x":{"field":"bar","type":"quantitative","title":null,"scale":{"domain":[-0.0625,80.4375],"nice":false,"zero":false,"padding":0}},
 "y":{"field":"price","type":"quantitative","title":null,"scale":{"domain":[11181.1,11317.53],"nice":false,"zero":false,"padding":0}},
 "shape":{"field":"marker","type":"nominal","legend":null,"scale":{"domain":["arrow","triangle"],"range":["triangle-right","triangle-left"]}},
 "color":{"field":"marker","type":"nominal","legend":null,"scale":{"domain":["arrow","triangle"],"range":["#0000FF","#DAA520"]}}}},
{"data":{"name":"levels"},"transform":[{"filter":"datum.style == 'fib'"}],"mark":{"type":"text","font":"DejaVu Sans","fontSize":11,"color":"#778899","align":"right","baseline":"alphabetic","dy":-3},
 "encoding":{"x":{"field":"bar2","type":"quantitative","title":null,"scale":{"domain":[-0.0625,80.4375],"nice":false,"zero":false,"padding":0}},
 "y":{"field":"price","type":"quantitative","title":null,"scale":{"domain":[11181.1,11317.53],"nice":false,"zero":false,"padding":0}},"text":{"field":"right"}}},
{"data":{"name":"levels"},"transform":[{"filter":"datum.style != 'fib' && isValid(datum.right)"}],"mark":{"type":"text","font":"DejaVu Sans","fontSize":11,"align":"right","baseline":"alphabetic","dy":-3,"dx":-1},
 "encoding":{"x":{"field":"bar2","type":"quantitative","title":null,"scale":{"domain":[-0.0625,80.4375],"nice":false,"zero":false,"padding":0}},
 "y":{"field":"price","type":"quantitative","title":null,"scale":{"domain":[11181.1,11317.53],"nice":false,"zero":false,"padding":0}},"text":{"field":"right"},
 "color":{"condition":[{"test":"datum.style == 'purpledash'","value":"#9932CC"},{"test":"datum.style == 'pink'","value":"#FF1493"}],"value":"#1A1AE6"}}},
{"data":{"name":"levels"},"transform":[{"filter":"isValid(datum.left)"}],"mark":{"type":"text","font":"DejaVu Sans","fontSize":10.5,"color":"#000000","align":"left","baseline":"alphabetic","dy":-3,"dx":3},
 "encoding":{"x":{"field":"bar","type":"quantitative","title":null,"scale":{"domain":[-0.0625,80.4375],"nice":false,"zero":false,"padding":0}},
 "y":{"field":"price","type":"quantitative","title":null,"scale":{"domain":[11181.1,11317.53],"nice":false,"zero":false,"padding":0}},"text":{"field":"left"}}},
{"data":{"name":"notes"},"transform":[{"filter":"datum.note == 'header'"}],"mark":{"type":"text","font":"DejaVu Sans","fontSize":11,"color":"#000000","align":"left","baseline":"alphabetic"},
 "encoding":{"x":{"field":"bar","type":"quantitative","title":null,"scale":{"domain":[-0.0625,80.4375],"nice":false,"zero":false,"padding":0}},
 "y":{"field":"price","type":"quantitative","title":null,"scale":{"domain":[11181.1,11317.53],"nice":false,"zero":false,"padding":0}},"text":{"field":"text"}}},
{"data":{"name":"notes"},"transform":[{"filter":"datum.note == 'big'"}],"mark":{"type":"text","font":"DejaVu Sans","fontSize":14.5,"color":"#000000","align":"left","baseline":"alphabetic"},
 "encoding":{"x":{"field":"bar","type":"quantitative","title":null,"scale":{"domain":[-0.0625,80.4375],"nice":false,"zero":false,"padding":0}},
 "y":{"field":"price","type":"quantitative","title":null,"scale":{"domain":[11181.1,11317.53],"nice":false,"zero":false,"padding":0}},"text":{"field":"text"}}},
{"data":{"name":"notes"},"transform":[{"filter":"datum.note == 'upper'"}],"mark":{"type":"text","font":"DejaVu Sans","fontSize":14,"color":"#000000","align":"left","baseline":"alphabetic","angle":-5},
 "encoding":{"x":{"field":"bar","type":"quantitative","title":null,"scale":{"domain":[-0.0625,80.4375],"nice":false,"zero":false,"padding":0}},
 "y":{"field":"price","type":"quantitative","title":null,"scale":{"domain":[11181.1,11317.53],"nice":false,"zero":false,"padding":0}},"text":{"field":"text"}}},
{"data":{"name":"notes"},"transform":[{"filter":"datum.note == 'lower'"}],"mark":{"type":"text","font":"DejaVu Sans","fontSize":14,"color":"#000000","align":"left","baseline":"alphabetic","angle":-14},
 "encoding":{"x":{"field":"bar","type":"quantitative","title":null,"scale":{"domain":[-0.0625,80.4375],"nice":false,"zero":false,"padding":0}},
 "y":{"field":"price","type":"quantitative","title":null,"scale":{"domain":[11181.1,11317.53],"nice":false,"zero":false,"padding":0}},"text":{"field":"text"}}},
{"data":{"name":"notes"},"transform":[{"filter":"datum.note == 'fib'"}],"mark":{"type":"text","font":"DejaVu Sans","fontSize":14,"color":"#000000","align":"left","baseline":"alphabetic","angle":90},
 "encoding":{"x":{"field":"bar","type":"quantitative","title":null,"scale":{"domain":[-0.0625,80.4375],"nice":false,"zero":false,"padding":0}},
 "y":{"field":"price","type":"quantitative","title":null,"scale":{"domain":[11181.1,11317.53],"nice":false,"zero":false,"padding":0}},"text":{"field":"text"}}},
{"data":{"name":"notes"},"transform":[{"filter":"datum.note == 'open'"}],"mark":{"type":"text","font":"DejaVu Sans","fontSize":11,"color":"#000000","align":"left","baseline":"alphabetic","angle":-90},
 "encoding":{"x":{"field":"bar","type":"quantitative","title":null,"scale":{"domain":[-0.0625,80.4375],"nice":false,"zero":false,"padding":0}},
 "y":{"field":"price","type":"quantitative","title":null,"scale":{"domain":[11181.1,11317.53],"nice":false,"zero":false,"padding":0}},"text":{"field":"text"}}},
{"data":{"name":"levels"},"transform":[{"filter":"isValid(datum.tag)"}],"mark":{"type":"point","filled":true,"opacity":1,"shape":"M0.06,-0.23L2.06,-0.23L2.06,0.23L0.06,0.23Z","size":3844},
 "encoding":{"x":{"field":"bar2","type":"quantitative","title":null,"scale":{"domain":[-0.0625,80.4375],"nice":false,"zero":false,"padding":0}},
 "y":{"field":"price","type":"quantitative","title":null,"scale":{"domain":[11181.1,11317.53],"nice":false,"zero":false,"padding":0}},
 "color":{"condition":[{"test":"datum.style == 'pivot'","value":"#3CB371"},{"test":"datum.style == 'gold'","value":"#FFCC00"},{"test":"datum.style == 'silver'","value":"#000000"},{"test":"datum.style == 'lime'","value":"#32CD32"},{"test":"datum.style == 'gapdash'","value":"#9933EE"}],"value":"#0000FF"}}},
{"data":{"name":"levels"},"transform":[{"filter":"isValid(datum.tag)"}],"mark":{"type":"text","font":"DejaVu Sans","fontSize":11,"color":"#FFFFFF","align":"left","baseline":"middle","dx":7},
 "encoding":{"x":{"field":"bar2","type":"quantitative","title":null,"scale":{"domain":[-0.0625,80.4375],"nice":false,"zero":false,"padding":0}},
 "y":{"field":"price","type":"quantitative","title":null,"scale":{"domain":[11181.1,11317.53],"nice":false,"zero":false,"padding":0}},"text":{"field":"tag"}}}
],
"resolve":{"scale":{"color":"independent","strokeDash":"independent","shape":"independent"}}
}
